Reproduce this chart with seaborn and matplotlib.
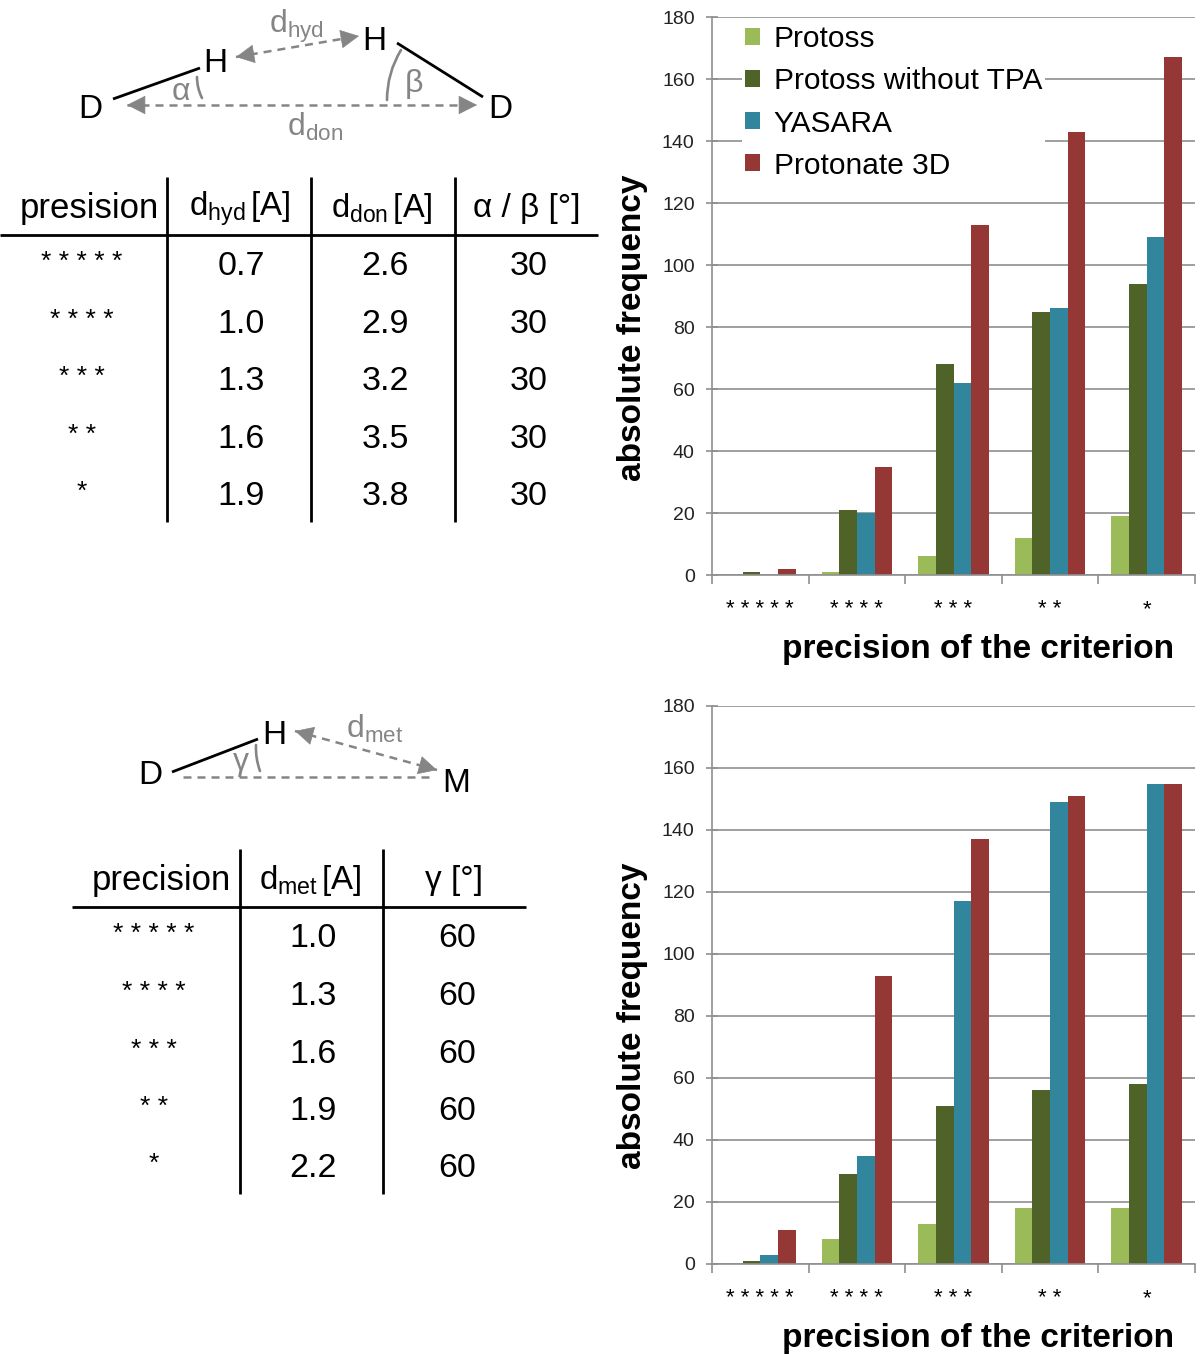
import matplotlib
matplotlib.use("Agg")
import matplotlib.pyplot as plt
import pandas as pd
import seaborn as sns
from matplotlib.patches import Patch

W, H = 1200, 1354
sns.set_style("white")
plt.rcParams["font.family"] = ["Liberation Sans", "DejaVu Sans"]
plt.rcParams["mathtext.fontset"] = "custom"
plt.rcParams["mathtext.rm"] = "Liberation Sans"
plt.rcParams["mathtext.it"] = "Liberation Sans"
plt.rcParams["mathtext.bf"] = "Liberation Sans:bold"
plt.rcParams["mathtext.default"] = "rm"

stars = ["* * * * *", "* * * *", "* * *", "* *", "*"]
methods = ["Protoss", "Protoss without TPA", "YASARA", "Protonate 3D"]
colors = ["#9BBB59", "#4F6228", "#31859C", "#953735"]

top_protoss = [0, 1, 6, 12, 19]
top_no_tpa = [1, 21, 68, 85, 94]
top_yasara = [0, 20, 62, 86, 109]
top_protonate = [2, 35, 113, 143, 167]

bot_protoss = [0, 8, 13, 18, 18]
bot_no_tpa = [1, 29, 51, 56, 58]
bot_yasara = [3, 35, 117, 149, 155]
bot_protonate = [11, 93, 137, 151, 155]

t1_hyd = ["0.7", "1.0", "1.3", "1.6", "1.9"]
t1_don = ["2.6", "2.9", "3.2", "3.5", "3.8"]
t1_ang = ["30", "30", "30", "30", "30"]
t2_met = ["1.0", "1.3", "1.6", "1.9", "2.2"]
t2_ang = ["60", "60", "60", "60", "60"]

GRID = "#8f8f8f"
TXT = "#222222"
DGREY = "#858585"
DASH = (0, (3.2, 2.4))


def frame(series):
    rows = []
    for m, vals in zip(methods, series):
        for s, v in zip(stars, vals):
            rows.append({"precision": s, "method": m, "count": v})
    return pd.DataFrame(rows)


fig = plt.figure(figsize=(W / 100, H / 100), dpi=100, facecolor="white")


def bar_axes(top_px, bottom_px, ylabel_y, series, legend=False):
    left, right = 712, 1195
    ax = fig.add_axes([left / W, 1 - bottom_px / H, (right - left) / W, (bottom_px - top_px) / H])
    sns.barplot(data=frame(series), x="precision", y="count", hue="method",
                hue_order=methods, palette=colors, order=stars, width=0.73,
                gap=0, saturation=1, linewidth=0, legend=False, ax=ax)
    ax.set_xlim(-0.5, 4.5)
    ax.set_ylim(0, 180)
    ax.set_yticks(range(0, 181, 20))
    ax.set_axisbelow(True)
    ax.grid(axis="y", color=GRID, lw=1.2)
    ax.grid(axis="x", visible=False)
    for s in ("top", "right"):
        ax.spines[s].set_visible(False)
    for s in ("left", "bottom"):
        ax.spines[s].set_color(GRID)
        ax.spines[s].set_linewidth(1.2)
    ax.tick_params(axis="y", direction="inout", length=9, width=1.2, color=GRID,
                   labelsize=14, labelcolor=TXT, pad=8, left=True)
    ax.set_xticks([i - 0.5 for i in range(6)], minor=True)
    ax.tick_params(axis="x", which="minor", direction="out", length=6.5, width=1.2,
                   color=GRID, bottom=True)
    ax.tick_params(axis="x", which="major", length=0, labelsize=16, labelcolor="black", pad=17.5)
    h = bottom_px - top_px
    ax.set_xlabel("precision of the criterion", fontsize=24.1, fontweight="bold",
                  color="black", va="center")
    ax.xaxis.set_label_coords((978 - left) / (right - left), -74 / h)
    ax.set_ylabel("absolute frequency", fontsize=24, fontweight="bold",
                  color="black", va="center", ha="center")
    ax.yaxis.set_label_coords((632 - left) / (right - left), (bottom_px - ylabel_y) / h)
    if legend:
        handles = [Patch(facecolor=c, edgecolor="none", label=m) for c, m in zip(colors, methods)]
        ax.legend(handles=handles, loc="upper left", bbox_to_anchor=((735 - left) / (right - left), 1 + 2 / h),
                  frameon=True, facecolor="white", edgecolor="none", framealpha=1,
                  fontsize=21.5, labelspacing=0.47, handlelength=0.5, handleheight=0.5,
                  handletextpad=0.45, borderpad=0.1, labelcolor="black", borderaxespad=0.25)
    return ax


bar_axes(17, 575, 328, [top_protoss, top_no_tpa, top_yasara, top_protonate], legend=True)
bar_axes(706, 1264, 1016, [bot_protoss, bot_no_tpa, bot_yasara, bot_protonate])

# overlay in pixel coordinates for schematics and tables
ov = fig.add_axes([0, 0, 1, 1], facecolor="none")
ov.set_xlim(0, W)
ov.set_ylim(H, 0)
ov.axis("off")


def text(x, y, s, size=24.5, color="black", **kw):
    ov.text(x, y, s, fontsize=size, color=color, ha="center", va="center", **kw)


def solid(p, q, lw=2.0, color="black"):
    ov.plot([p[0], q[0]], [p[1], q[1]], color=color, lw=lw, solid_capstyle="butt")


def head(tip, toward):
    dx, dy = toward[0] - tip[0], toward[1] - tip[1]
    d = (dx * dx + dy * dy) ** 0.5
    back = (tip[0] + dx / d * 16, tip[1] + dy / d * 16)
    ov.annotate("", xy=tip, xytext=back, arrowprops=dict(
        arrowstyle="-|>,head_length=0.65,head_width=0.33", color=DGREY, lw=0.5,
        shrinkA=0, shrinkB=0, mutation_scale=19))


def dashed_arrow(p, q):
    ov.plot([p[0], q[0]], [p[1], q[1]], color=DGREY, lw=1.8, linestyle=DASH)
    head(p, q)
    head(q, p)


def arc(p, q, rad):
    ov.annotate("", xy=q, xytext=p, arrowprops=dict(
        arrowstyle="-", color=DGREY, lw=1.9, shrinkA=0, shrinkB=0,
        connectionstyle=f"arc3,rad={rad}"))


# upper schematic
text(90, 110, "D", 24)
text(215, 63, "H", 24)
text(374, 41, "H", 24)
text(500, 110, "D", 24)
solid((113, 99), (200, 68))
solid((397, 43), (483, 97))
dashed_arrow((127, 105), (477, 105))
dashed_arrow((236, 57), (359, 36))
arc((197, 77), (202, 98), 0.12)
arc((401, 50), (387, 100), 0.14)
text(296, 26, r"$\mathregular{d_{hyd}}$", 23, DGREY)
text(315, 127, r"$\mathregular{d_{don}}$", 23, DGREY)
text(181, 92, "α", 23, DGREY)
text(414, 84, "β", 23, DGREY)

# upper table
solid((0, 235), (598, 235))
for x in (167, 311, 455):
    solid((x, 177), (x, 522))
text(89, 208.5, "presision", 25)
text(240, 209, r"$\mathregular{d_{hyd}\,[A]}$", 23.8)
text(382, 209, r"$\mathregular{d_{don}\,[A]}$", 23.5)
text(527, 209, "α / β [°]", 24)
rows1 = [263, 321, 378, 436, 493]
for y, s, a, b, c in zip(rows1, stars, t1_hyd, t1_don, t1_ang):
    text(82, y - 1, s, 19)
    text(241, y + 3.5, a)
    text(385, y + 3.5, b)
    text(529, y + 3.5, c)

# lower schematic
text(150, 775, "D", 24)
text(274, 736, "H", 24)
text(456, 783, "M", 24)
solid((172, 772), (258, 739))
ov.plot([183, 432], [777, 777], color=DGREY, lw=1.8, linestyle=DASH)
dashed_arrow((295, 731), (437, 770))
arc((256, 745), (260, 771), 0.1)
text(375, 729, r"$\mathregular{d_{met}}$", 23, DGREY)
text(241, 762, "γ", 23, DGREY)

# lower table
solid((72, 907), (526, 907))
for x in (240, 383):
    solid((x, 849), (x, 1194))
text(161, 880.5, "precision", 25)
text(310, 881, r"$\mathregular{d_{met}\,[A]}$", 23.8)
text(454, 881, "γ [°]", 24)
rows2 = [935, 993, 1051, 1108, 1165]
for y, s, a, b in zip(rows2, stars, t2_met, t2_ang):
    text(154, y - 1, s, 19)
    text(313, y + 3.5, a)
    text(457, y + 3.5, b)

fig.savefig("out.png", dpi=100, facecolor="white")
